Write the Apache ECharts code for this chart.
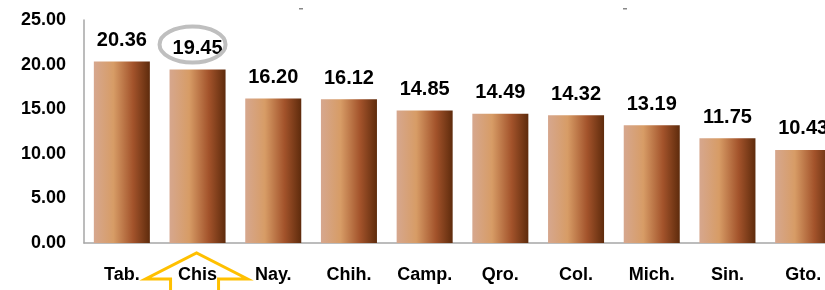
<!DOCTYPE html>
<html>
<head>
<meta charset="utf-8">
<script src="https://cdn.jsdelivr.net/npm/echarts@6/dist/echarts.min.js"></script>
<style>
  html, body { margin: 0; padding: 0; background: #fff; }
  #main { width: 825px; height: 290px; }
</style>
</head>
<body>
<div id="main"></div>
<script>
// estados y su valor
var estados = ['Tab.', 'Chis', 'Nay.', 'Chih.', 'Camp.', 'Qro.', 'Col.', 'Mich.', 'Sin.', 'Gto.'];
var valores = [20.36, 19.45, 16.20, 16.12, 14.85, 14.49, 14.32, 13.19, 11.75, 10.43];
var marcas = [0, 5, 10, 15, 20, 25];
var resaltado = 'Chis';

var myChart = echarts.init(document.getElementById('main'));
var fuente = 'Liberation Sans';

var option = {
    animation: false,
    grid: { left: 84, right: -16, top: 20, bottom: 47, outerBoundsMode: 'none' },
    xAxis: {
        type: 'category',
        data: estados,
        axisLine: { lineStyle: { color: '#a6a6a6', width: 1.5 } },
        axisTick: { show: false },
        axisLabel: { color: '#000', fontWeight: 'bold', fontSize: 18, fontFamily: fuente, margin: 23 }
    },
    yAxis: {
        type: 'value',
        min: marcas[0],
        max: marcas[marcas.length - 1],
        interval: 5,
        axisLine: { show: true, lineStyle: { color: '#a6a6a6', width: 1.5 } },
        axisTick: { show: false },
        splitLine: { show: false },
        axisLabel: {
            color: '#000', fontWeight: 'bold', fontSize: 18, fontFamily: fuente, margin: 18,
            formatter: function (v) { return v.toFixed(2); }
        }
    },
    series: [{
        type: 'bar',
        data: valores,
        barWidth: '74%',
        itemStyle: {
            // degradado horizontal
            color: new echarts.graphic.LinearGradient(0, 0, 1, 0, [
                { offset: 0, color: '#d6a78e' },
                { offset: 0.35, color: '#d79c66' },
                { offset: 0.7, color: '#a3532b' },
                { offset: 1, color: '#5e2b0c' }
            ])
        },
        label: {
            show: true,
            position: 'top',
            distance: 11,
            color: '#000',
            fontWeight: 'bold',
            fontSize: 20,
            fontFamily: fuente,
            formatter: function (p) { return p.value.toFixed(2); }
        }
    }]
};

myChart.setOption(option, true);

// elipse y flecha sobre el estado resaltado
var idx = estados.indexOf(resaltado);
var pTop = myChart.convertToPixel({ seriesIndex: 0 }, [idx, valores[idx]]);
var pBase = myChart.convertToPixel({ seriesIndex: 0 }, [idx, 0]);
var cx = pTop[0], by = pBase[1];
myChart.setOption({
    graphic: [
        {
            type: 'ellipse',
            shape: { cx: cx - 5, cy: pTop[1] - 25, rx: 33, ry: 18 },
            style: { fill: 'none', stroke: '#bfbfbf', lineWidth: 4 },
            z: 100
        },
        {
            type: 'polyline',
            shape: {
                points: [
                    [cx - 27, 292], [cx - 27, by + 36], [cx - 52, by + 36],
                    [cx - 1, by + 10], [cx + 50, by + 36], [cx + 21, by + 36], [cx + 21, 292]
                ]
            },
            style: { fill: 'none', stroke: '#ffc000', lineWidth: 3 },
            z: 100
        },
        { type: 'rect', shape: { x: 299, y: 8, width: 4, height: 1.5 }, style: { fill: '#888' } },
        { type: 'rect', shape: { x: 623, y: 8, width: 4, height: 1.5 }, style: { fill: '#888' } }
    ]
});
</script>
</body>
</html>
